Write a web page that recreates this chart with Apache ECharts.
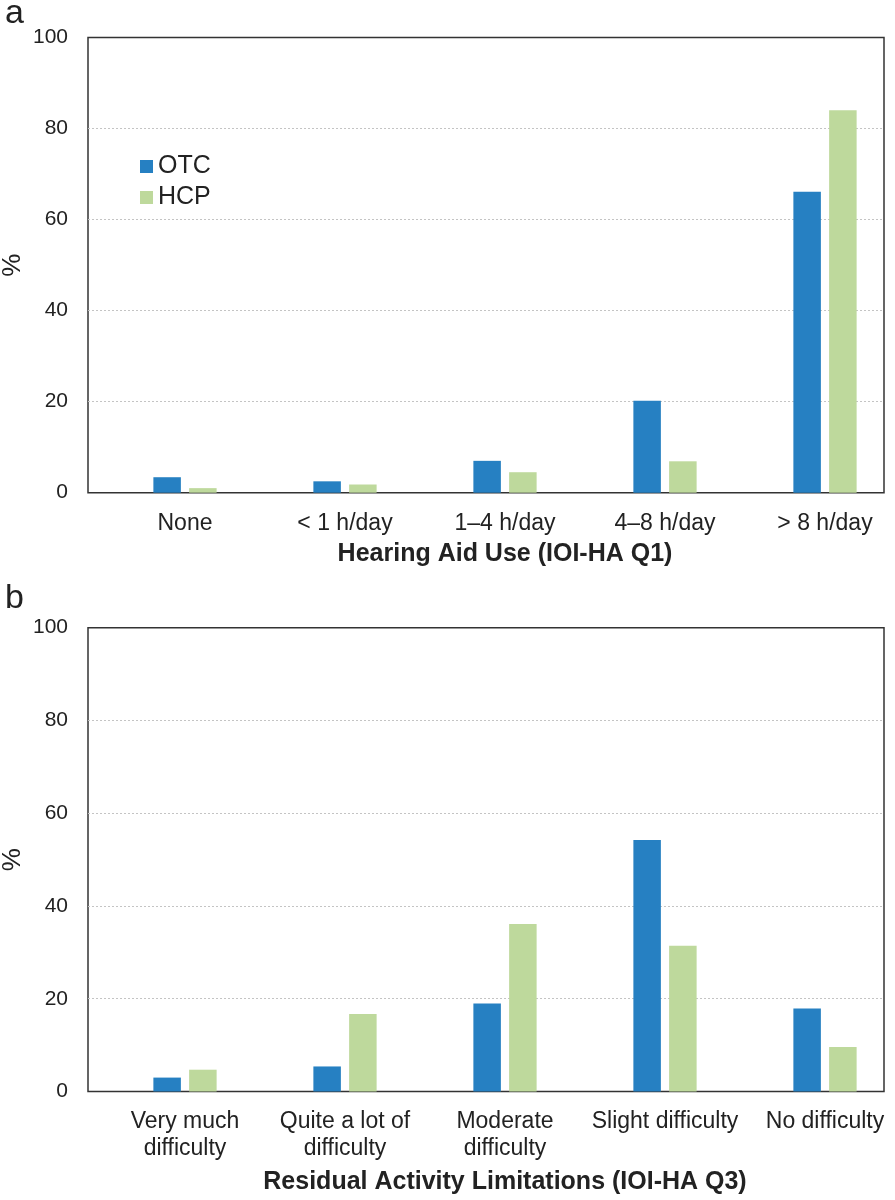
<!DOCTYPE html>
<html>
<head>
<meta charset="utf-8">
<script src="https://cdn.jsdelivr.net/npm/echarts@6/dist/echarts.min.js"></script>
<style>
  html, body { margin: 0; padding: 0; background: #fff; }
  #main { width: 895px; height: 1200px; }
</style>
</head>
<body>
<div id="main"></div>
<script>
// panel a - hearing aid use
var categoriesA = ['None', '< 1 h/day', '1–4 h/day', '4–8 h/day', '> 8 h/day'];
var otcA = [3.4, 2.5, 7.0, 20.2, 66.1];
var hcpA = [1.0, 1.8, 4.5, 6.9, 84.0];

// panel b - residual activity limitations
var categoriesB = ['Very much\ndifficulty', 'Quite a lot of\ndifficulty', 'Moderate\ndifficulty', 'Slight difficulty', 'No difficulty'];
var otcB = [3.0, 5.4, 19.0, 54.2, 17.9];
var hcpB = [4.7, 16.7, 36.1, 31.4, 9.6];

var seriesNames = ['OTC', 'HCP'];
var colors = ['#2680c2', '#bed99c'];

var font = "'Liberation Sans', Arial, sans-serif";

var myChart = echarts.init(document.getElementById('main'));

function frameY(grid, name) {
  return {
    type: 'value', gridIndex: grid, min: 0, max: 100, interval: 20,
    name: name, nameLocation: 'middle', nameGap: 62, nameMoveOverlap: false,
    nameTextStyle: { fontSize: 26, color: '#222', fontFamily: font },
    axisLine: { show: false }, axisTick: { show: false },
    axisLabel: { fontSize: 21, color: '#222', margin: 20, fontFamily: font },
    splitLine: { showMinLine: false, showMaxLine: false, lineStyle: { color: '#c4c4c4', type: [2, 2], width: 1 } }
  };
}
function barsX(grid, data, title, gap, margin) {
  return {
    type: 'category', gridIndex: grid, data: data,
    axisLine: { show: false }, axisTick: { show: false },
    axisLabel: { interval: 0, fontSize: 23, lineHeight: 27, color: '#222', margin: margin, fontFamily: font },
    name: title, nameLocation: 'middle', nameGap: gap, nameMoveOverlap: false,
    nameTextStyle: { fontSize: 25, fontWeight: 'bold', color: '#222', fontFamily: font }
  };
}
function bar(name, data, idx, color) {
  return {
    name: name, type: 'bar', data: data,
    xAxisIndex: idx, yAxisIndex: idx,
    barWidth: 27.5, barGap: '30%',
    itemStyle: { color: color }
  };
}

var option = {
  animation: false,
  title: [
    { text: 'a', left: 0, top: -8, textStyle: { fontSize: 34, fontWeight: 'normal', color: '#222', fontFamily: font } },
    { text: 'b', left: 0, top: 577, textStyle: { fontSize: 34, fontWeight: 'normal', color: '#222', fontFamily: font } }
  ],
  legend: {
    orient: 'vertical', left: 135, top: 149,
    itemWidth: 13, itemHeight: 13, itemGap: 6,
    icon: 'rect',
    textStyle: { fontSize: 25, lineHeight: 25, color: '#222', fontFamily: font },
    data: seriesNames
  },
  grid: [
    { left: 88, top: 37.5, width: 796, height: 455.2, show: true, borderColor: '#333', borderWidth: 1.5, outerBoundsMode: 'none' },
    { left: 105, top: 37.5, width: 800, height: 455.2, outerBoundsMode: 'none' },
    { left: 88, top: 627.7, width: 796, height: 463.8, show: true, borderColor: '#333', borderWidth: 1.5, outerBoundsMode: 'none' },
    { left: 105, top: 627.7, width: 800, height: 463.8, outerBoundsMode: 'none' }
  ],
  xAxis: [
    { type: 'value', gridIndex: 0, show: false },
    barsX(1, categoriesA, 'Hearing Aid Use (IOI-HA Q1)', 49, 17),
    { type: 'value', gridIndex: 2, show: false },
    barsX(3, categoriesB, 'Residual Activity Limitations (IOI-HA Q3)', 78, 17)
  ],
  yAxis: [
    frameY(0, '%'),
    { type: 'value', gridIndex: 1, min: 0, max: 100, show: false },
    frameY(2, '%'),
    { type: 'value', gridIndex: 3, min: 0, max: 100, show: false }
  ],
  series: [
    bar(seriesNames[0], otcA, 1, colors[0]),
    bar(seriesNames[1], hcpA, 1, colors[1]),
    bar(seriesNames[0], otcB, 3, colors[0]),
    bar(seriesNames[1], hcpB, 3, colors[1])
  ]
};
myChart.setOption(option);
</script>
</body>
</html>
